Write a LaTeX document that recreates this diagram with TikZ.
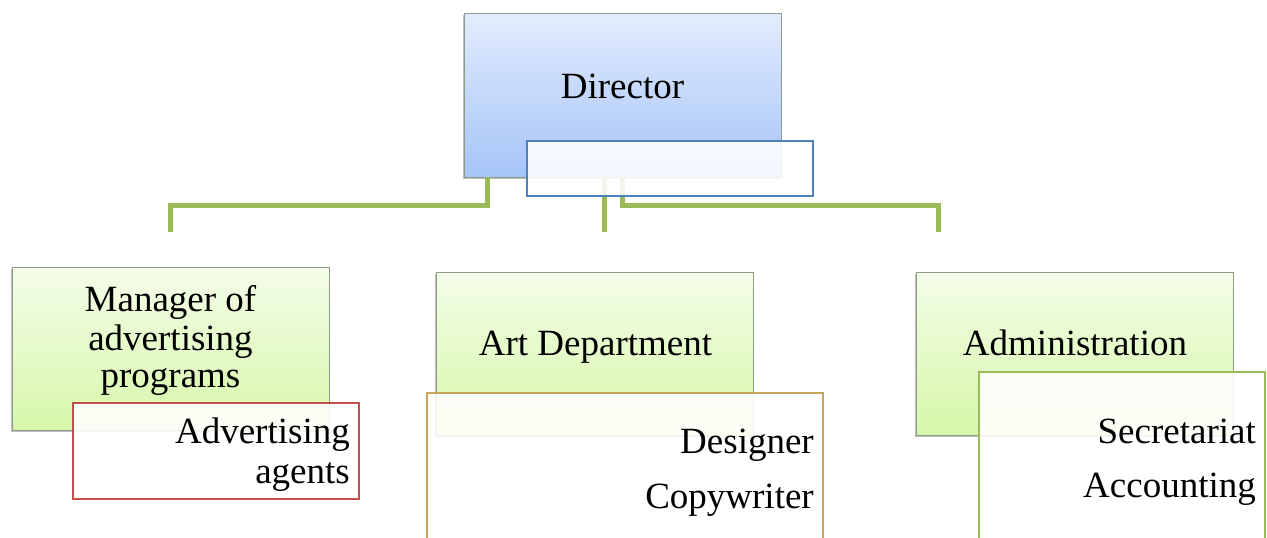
\documentclass[tikz,border=0pt]{standalone}
\usepackage{fontspec}
\setmainfont{Liberation Serif}
\usetikzlibrary{shadows,calc}
\definecolor{dirtop}{HTML}{E2ECFD}
\definecolor{dirbot}{HTML}{A6C4F8}
\definecolor{grtop}{HTML}{F4FDE9}
\definecolor{grbot}{HTML}{D6F7A8}
\definecolor{conncol}{HTML}{9BBB59}
\definecolor{bluecol}{HTML}{4F81BD}
\definecolor{redcol}{HTML}{C0504D}
\definecolor{tancol}{HTML}{C9A55A}
\definecolor{edgecol}{HTML}{8E9A8A}
\begin{document}
\begin{tikzpicture}[x=1pt,y=-1pt,
  mainbox/.style={draw=edgecol, line width=0.8pt, inner sep=0pt, minimum width=317pt,
    drop shadow={shadow xshift=-1pt, shadow yshift=-2pt, opacity=0.25, fill=black}},
  dirbox/.style={mainbox, top color=dirtop, bottom color=dirbot},
  deptbox/.style={mainbox, top color=grtop, bottom color=grbot},
  subbox/.style={line width=1.2pt, fill=white, fill opacity=0.88, inner sep=0pt},
  conn/.style={draw=conncol, line width=5pt, line join=miter},
  txt/.style={font=\fontsize{37}{40}\selectfont, inner sep=0pt, anchor=base},
  rtxt/.style={txt, anchor=base east}]
\useasboundingbox (0,0) rectangle (1267,538);
\clip (0,0) rectangle (1267,538);
\fill[white] (0,0) rectangle (1267,538);

% main boxes
\node[dirbox, minimum height=164pt] (dir) at (622.5,95) {};
\node[deptbox, minimum height=163pt] (mgr) at (170.5,348.5) {};
\node[deptbox, minimum height=163pt] (art) at (594.5,353.5) {};
\node[deptbox, minimum height=163pt] (adm) at (1074.5,353.5) {};

% connectors
\coordinate (e1) at (170,232);
\coordinate (e2) at (604,232);
\coordinate (e3) at (938,232);
\draw[conn] (dir.south -| 487,0) -- (487,205) -| (e1);
\draw[conn] (dir.south -| 604,0) -- (e2);
\draw[conn] (dir.south -| 622,0) -- (622,205) -| (e3);

% overlay boxes
\node[subbox, draw=bluecol, minimum width=286pt, minimum height=55pt] (dirsub) at (670,168.5) {};
\node[subbox, draw=redcol, minimum width=286pt, minimum height=96pt] (mgrsub) at (216,451) {};
\node[subbox, draw=tancol, minimum width=396pt, minimum height=227pt] (artsub) at (625,506.5) {};
\node[subbox, draw=conncol, minimum width=286pt, minimum height=228pt] (admsub) at (1122,486) {};

% texts
\node[txt] (tdir) at (622.5,98) {Director};
\node[txt] (tm1) at (170.5,311) {Manager of};
\node[txt] (tm2) at (170.5,350) {advertising};
\node[txt] (tm3) at (170.5,387) {programs};
\node[rtxt] (ta1) at (350,443) {Advertising};
\node[rtxt] (ta2) at (350,483) {agents};
\node[txt] (tart) at (595.5,355) {Art Department};
\node[rtxt] (td1) at (814,453) {Designer};
\node[rtxt] (td2) at (814,508) {Copywriter};
\node[txt] (tadm) at (1075,355) {Administration};
\node[rtxt] (ts1) at (1256,443) {Secretariat};
\node[rtxt] (ts2) at (1256,497) {Accounting};
\end{tikzpicture}
\end{document}
